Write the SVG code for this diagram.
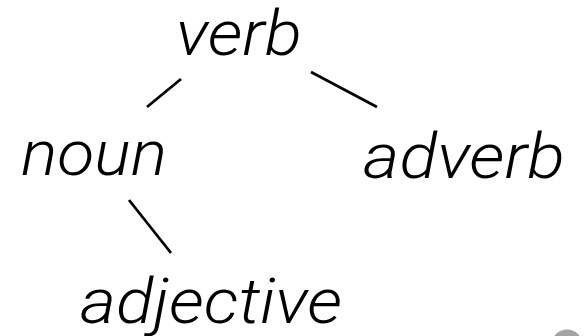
<svg xmlns="http://www.w3.org/2000/svg" width="584" height="336" viewBox="0 0 584 336">
  <style>
    .lbl { font-family: Roboto, "Liberation Sans", sans-serif; font-weight: 300; font-style: italic; font-size: 62px; fill: #000; }
    .edge { stroke: #000; stroke-width: 2.8; stroke-linecap: butt; fill: none; }
  </style>
  <rect width="584" height="336" fill="#fff"/>
  <g id="connectors">
    <line class="edge" x1="181" y1="79" x2="147" y2="107"/>
    <line class="edge" x1="311" y1="72" x2="377" y2="107"/>
    <line class="edge" x1="129" y1="200" x2="171" y2="253"/>
  </g>
  <g id="node-verb"><text class="lbl" x="176" y="55" textLength="126" lengthAdjust="spacingAndGlyphs">verb</text></g>
  <g id="node-noun"><text class="lbl" x="21" y="175" textLength="146" lengthAdjust="spacingAndGlyphs">noun</text></g>
  <g id="node-adverb"><text class="lbl" x="363" y="178" textLength="202" lengthAdjust="spacingAndGlyphs">adverb</text></g>
  <g id="node-adjective"><text class="lbl" x="80" y="323" textLength="262" lengthAdjust="spacingAndGlyphs">adjective</text></g>
  <circle cx="567" cy="345" r="15.5" fill="#a3a3a3"/>
</svg>
